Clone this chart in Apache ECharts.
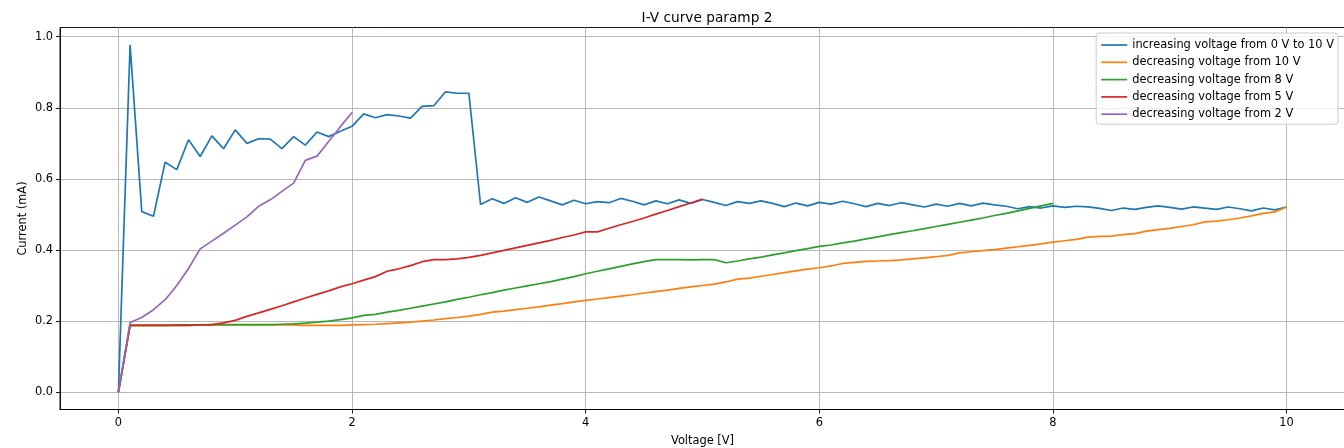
<!DOCTYPE html>
<html>
<head>
<meta charset="utf-8">
<script src="https://cdn.jsdelivr.net/npm/echarts@6/dist/echarts.min.js"></script>
<style>
html,body{margin:0;padding:0;background:#fff;}
#chart{width:1344px;height:448px;}
</style>
</head>
<body>
<div id="chart"></div>
<script>
const voltage = [0.0,0.1,0.2,0.3,0.4,0.5,0.6,0.7,0.8,0.9,1.0,1.1,1.2,1.3,1.4,1.5,1.6,1.7,1.8,1.9,
2.0,2.1,2.2,2.3,2.4,2.5,2.6,2.7,2.8,2.9,3.0,3.1,3.2,3.3,3.4,3.5,3.6,3.7,3.8,3.9,
4.0,4.1,4.2,4.3,4.4,4.5,4.6,4.7,4.8,4.9,5.0,5.1,5.2,5.3,5.4,5.5,5.6,5.7,5.8,5.9,
6.0,6.1,6.2,6.3,6.4,6.5,6.6,6.7,6.8,6.9,7.0,7.1,7.2,7.3,7.4,7.5,7.6,7.7,7.8,7.9,
8.0,8.1,8.2,8.3,8.4,8.5,8.6,8.7,8.8,8.9,9.0,9.1,9.2,9.3,9.4,9.5,9.6,9.7,9.8,9.9,10.0];

const increasing0to10 = [0,0.977,0.508,0.495,0.647,0.626,0.710,0.663,0.721,0.685,
0.738,0.700,0.713,0.712,0.685,0.719,0.695,0.732,0.719,0.734,
0.748,0.783,0.772,0.781,0.777,0.771,0.804,0.806,0.845,0.841,
0.841,0.528,0.544,0.531,0.547,0.534,0.549,0.538,0.527,0.540,
0.530,0.536,0.533,0.545,0.537,0.527,0.538,0.530,0.541,0.531,
0.542,0.534,0.525,0.536,0.531,0.538,0.531,0.522,0.532,0.524,
0.534,0.529,0.537,0.530,0.522,0.531,0.525,0.533,0.527,0.521,
0.529,0.523,0.531,0.524,0.532,0.527,0.523,0.516,0.522,0.518,
0.524,0.520,0.523,0.521,0.517,0.511,0.518,0.514,0.520,0.524,
0.520,0.515,0.521,0.518,0.514,0.521,0.516,0.510,0.518,0.513,0.521];

const decreasingFrom10 = [0,0.188,0.188,0.188,0.188,0.188,0.188,0.189,0.189,0.189,
0.189,0.189,0.189,0.189,0.189,0.189,0.188,0.188,0.188,0.188,
0.189,0.190,0.191,0.193,0.195,0.197,0.200,0.203,0.207,0.210,
0.214,0.219,0.225,0.228,0.232,0.236,0.240,0.245,0.249,0.254,
0.258,0.262,0.266,0.270,0.274,0.279,0.283,0.287,0.292,0.296,
0.300,0.304,0.310,0.318,0.321,0.326,0.331,0.336,0.341,0.346,
0.350,0.355,0.362,0.365,0.368,0.369,0.370,0.372,0.375,0.378,
0.381,0.385,0.392,0.395,0.398,0.401,0.405,0.409,0.413,0.417,
0.422,0.426,0.430,0.436,0.438,0.439,0.443,0.446,0.453,0.457,
0.461,0.466,0.471,0.479,0.481,0.485,0.490,0.496,0.503,0.507,0.521];

const decreasingFrom8 = [0,0.188,0.188,0.188,0.188,0.189,0.189,0.189,0.190,0.190,
0.190,0.190,0.190,0.190,0.191,0.192,0.194,0.197,0.200,0.204,
0.209,0.216,0.219,0.225,0.230,0.236,0.242,0.248,0.254,0.261,
0.267,0.274,0.280,0.287,0.293,0.299,0.305,0.311,0.318,0.325,
0.333,0.340,0.347,0.354,0.361,0.367,0.373,0.373,0.373,0.372,
0.373,0.373,0.364,0.369,0.375,0.380,0.386,0.392,0.398,0.404,
0.410,0.414,0.420,0.425,0.431,0.437,0.443,0.449,0.454,0.460,
0.466,0.472,0.478,0.484,0.490,0.497,0.503,0.510,0.517,0.524,0.531];

const decreasingFrom5 = [0,0.188,0.188,0.188,0.188,0.188,0.188,0.189,0.190,0.195,
0.202,0.213,0.223,0.233,0.243,0.254,0.265,0.275,0.285,0.296,
0.305,0.315,0.325,0.340,0.347,0.356,0.367,0.373,0.373,0.375,
0.379,0.385,0.392,0.399,0.406,0.413,0.420,0.427,0.435,0.442,
0.451,0.451,0.461,0.471,0.480,0.490,0.501,0.511,0.522,0.532,0.543];

const decreasingFrom2 = [0,0.196,0.210,0.232,0.260,0.300,0.348,0.403,0.425,0.447,
0.470,0.493,0.523,0.541,0.565,0.588,0.652,0.664,0.705,0.747,0.787];

const seriesNames = ['increasing voltage from 0 V to 10 V','decreasing voltage from 10 V','decreasing voltage from 8 V','decreasing voltage from 5 V','decreasing voltage from 2 V'];
const seriesValues = [increasing0to10, decreasingFrom10, decreasingFrom8, decreasingFrom5, decreasingFrom2];
const colors = ['#1f77b4','#ff7f0e','#2ca02c','#d62728','#9467bd'];
const xTicks = [0,2,4,6,8,10];
const yTicks = [0.0,0.2,0.4,0.6,0.8,1.0];

const FONT = 'DejaVu Sans';
const chart = echarts.init(document.getElementById('chart'), null, {renderer:'canvas'});
chart.setOption({
  animation:false,
  backgroundColor:'#ffffff',
  title:{text:'I-V curve paramp 2', left:702, top:6, textAlign:'center',
    textStyle:{fontFamily:FONT, fontSize:13.7, fontWeight:'normal', color:'#000'}},
  legend:{orient:'vertical', right:6, top:33, padding:[5,4,3,5], itemGap:3.3, itemWidth:26, itemHeight:1.7,
    icon:'rect', backgroundColor:'rgba(255,255,255,0.8)', borderColor:'#cccccc', borderWidth:1, borderRadius:3,
    textStyle:{fontFamily:FONT, fontSize:11.4, color:'#000', lineHeight:14},
    data:seriesNames},
  grid:{left:60, top:27.5, width:1285, height:382, show:true, borderColor:'#000', borderWidth:0.9,
    outerBoundsMode:'none', containLabel:false},
  xAxis:{type:'value', min:-0.5, max:10.5,
    name:'Voltage [V]', nameLocation:'middle', nameGap:26, nameMoveOverlap:false,
    nameTextStyle:{fontFamily:FONT, fontSize:11.4, color:'#000'},
    axisLine:{show:true, onZero:false, lineStyle:{color:'#000', width:0.9}},
    axisTick:{show:true, length:4, lineStyle:{color:'#000', width:0.9}, customValues:xTicks},
    axisLabel:{fontFamily:FONT, fontSize:11.4, color:'#000', margin:8, customValues:xTicks, formatter:v=>String(v)},
    splitLine:{show:true, lineStyle:{color:'#b0b0b0', width:0.9}}},
  yAxis:{type:'value', min:-0.0489, max:1.026,
    name:'Current (mA)', nameLocation:'middle', nameGap:31, nameRotate:90, nameMoveOverlap:false,
    nameTextStyle:{fontFamily:FONT, fontSize:11.4, color:'#000'},
    axisLine:{show:true, onZero:false, lineStyle:{color:'#000', width:0.9}},
    axisTick:{show:true, length:4, lineStyle:{color:'#000', width:0.9}, customValues:yTicks},
    axisLabel:{fontFamily:FONT, fontSize:11.4, color:'#000', margin:7, customValues:yTicks, formatter:v=>v.toFixed(1)},
    splitLine:{show:true, lineStyle:{color:'#b0b0b0', width:0.9}}},
  series: seriesNames.map((name,i)=>({
    name:name, type:'line', symbol:'none', showSymbol:false, smooth:false,
    color:colors[i],
    lineStyle:{color:colors[i], width:1.7},
    data: seriesValues[i].map((v,j)=>[voltage[j], v])
  }))
});
</script>
</body>
</html>
